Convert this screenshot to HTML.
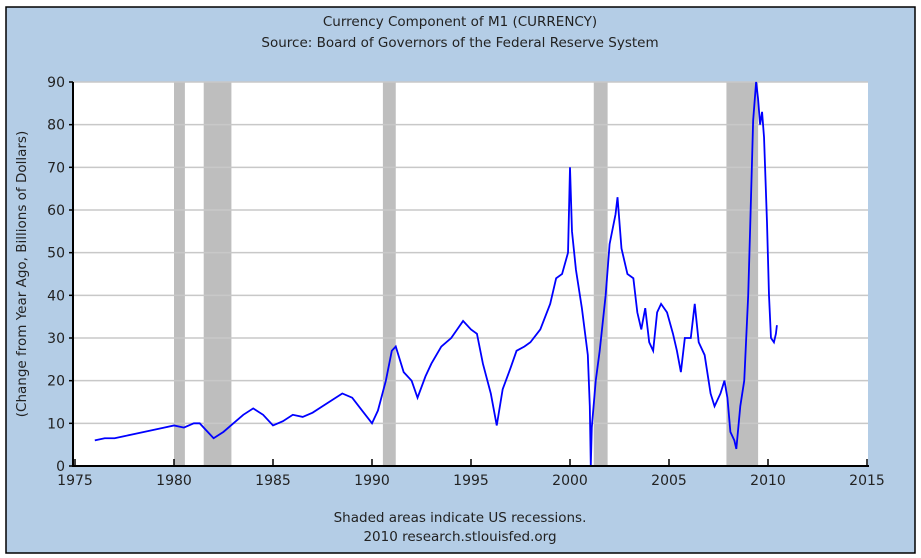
<!DOCTYPE html>
<html><head><meta charset="utf-8"><style>
body{margin:0;background:#fff}
svg{display:block;font-family:"DejaVu Sans","Liberation Sans",sans-serif}
</style></head><body>
<svg width="921" height="558" viewBox="0 0 921 558">
<rect x="0" y="0" width="921" height="558" fill="#fff"/>
<rect x="6" y="7" width="909" height="546" fill="#b4cde6" stroke="#000" stroke-width="1.5"/>
<text x="460" y="26" text-anchor="middle" font-size="13.5" fill="#222">Currency Component of M1 (CURRENCY)</text>
<text x="460" y="47" text-anchor="middle" font-size="13.5" fill="#222">Source: Board of Governors of the Federal Reserve System</text>
<rect x="73" y="82" width="795" height="384" fill="#fff"/>
<g id="rec"></g><g id="grid"></g><g id="series"></g><g id="axes"></g>
<text transform="translate(26,274) rotate(-90)" text-anchor="middle" font-size="13.5" fill="#222">(Change from Year Ago, Billions of Dollars)</text>
<text x="460" y="522" text-anchor="middle" font-size="13.5" fill="#222">Shaded areas indicate US recessions.</text>
<text x="460" y="541" text-anchor="middle" font-size="13.5" fill="#222">2010 research.stlouisfed.org</text>
</svg>
<script>
const recStart=[1980.0,1981.5,1990.55,2001.2,2007.9];
const recEnd=[1980.55,1982.9,1991.2,2001.9,2009.5];
const yTicks=[0,10,20,30,40,50,60,70,80,90];
const xTicks=[1975,1980,1985,1990,1995,2000,2005,2010,2015];
const years=[1976,1976.5,1977,1977.5,1978,1978.5,1979,1979.5,1980,1980.5,1981,1981.3,1981.6,1982,1982.5,1983,1983.5,1984,1984.5,1985,1985.5,1986,1986.5,1987,1987.5,1988,1988.5,1989,1989.5,1990,1990.3,1990.7,1991,1991.2,1991.6,1992,1992.3,1992.7,1993,1993.5,1994,1994.3,1994.6,1995,1995.3,1995.6,1996,1996.3,1996.6,1997,1997.3,1997.7,1998,1998.5,1999,1999.3,1999.6,1999.9,2000.0,2000.1,2000.3,2000.6,2000.9,2001.0,2001.05,2001.1,2001.3,2001.5,2001.8,2002,2002.3,2002.4,2002.6,2002.9,2003.2,2003.4,2003.6,2003.8,2004.0,2004.2,2004.4,2004.6,2004.9,2005.2,2005.4,2005.6,2005.8,2006.1,2006.3,2006.5,2006.8,2007.1,2007.3,2007.6,2007.8,2007.95,2008.1,2008.3,2008.4,2008.6,2008.8,2009.0,2009.1,2009.25,2009.4,2009.5,2009.6,2009.7,2009.8,2009.95,2010.05,2010.15,2010.3,2010.4,2010.45];
const values=[6,6.5,6.5,7,7.5,8,8.5,9,9.5,9,10,10,8.5,6.5,8,10,12,13.5,12,9.5,10.5,12,11.5,12.5,14,15.5,17,16,13,10,13,20,27,28,22,20,16,21,24,28,30,32,34,32,31,24,17,9.5,18,23,27,28,29,32,38,44,45,50,70,55,46,37,26,14,0,9,20,27,40,52,59,63,51,45,44,36,32,37,29,27,36,38,36,31,27,22,30,30,38,29,26,17,14,17,20,16,8,6,4,14,20,40,56,81,90,86,80,83,77,57,40,30,29,31,33];
const NS='http://www.w3.org/2000/svg';
const X0=75,PX=19.8,Y0=466,PY=384/90;
const xs=v=>X0+(v-1975)*PX, ys=v=>Y0-v*PY;
function mk(t,a,p){const e=document.createElementNS(NS,t);for(const k in a)e.setAttribute(k,a[k]);p.appendChild(e);return e;}
const rec=document.getElementById('rec');
recStart.forEach((s,i)=>{
 const r=mk('rect',{x:xs(s),y:82,width:xs(recEnd[i])-xs(s),height:384,fill:'#bebebe'},rec);
 
 
});
const grid=document.getElementById('grid'),axes=document.getElementById('axes');
yTicks.forEach(v=>{
 if(v>0){const l=mk('line',{x1:73,x2:868,y1:ys(v),y2:ys(v),stroke:'#c8c8c8','stroke-width':1.5},grid);
 
 }
 mk('line',{x1:69,x2:73,y1:ys(v),y2:ys(v),stroke:'#000','stroke-width':1.5},axes);
 const t=mk('text',{x:65,y:ys(v)+5,'text-anchor':'end','font-size':14,fill:'#222'},axes);t.textContent=v;
 
 
});
xTicks.forEach(v=>{
 mk('line',{x1:xs(v),x2:xs(v),y1:459,y2:466,stroke:'#000','stroke-width':1.5},axes);
 const t=mk('text',{x:xs(v),y:485,'text-anchor':'middle','font-size':14,fill:'#222'},axes);t.textContent=v;
 
 
});
const ya=mk('line',{x1:73,x2:73,y1:82,y2:467,stroke:'#000','stroke-width':2},axes);


const xa=mk('line',{x1:72,x2:869,y1:466,y2:466,stroke:'#000','stroke-width':2},axes);


const pl=mk('polyline',{points:years.map((y,i)=>xs(y)+','+ys(values[i])).join(' '),fill:'none',stroke:'#0000ff','stroke-width':1.8},document.getElementById('series'));


</script>
</body></html>
